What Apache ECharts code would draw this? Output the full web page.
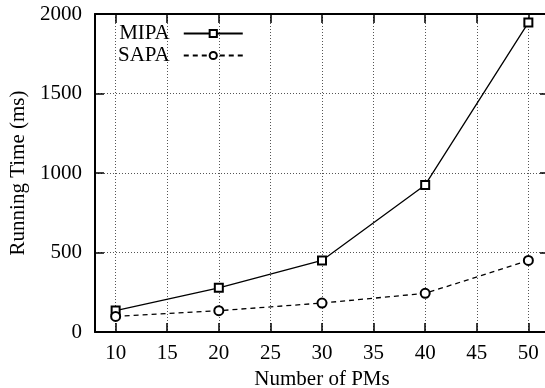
<!DOCTYPE html>
<html>
<head>
<meta charset="utf-8">
<title>Running time vs number of PMs</title>
<script src="https://cdn.jsdelivr.net/npm/echarts@6/dist/echarts.min.js"></script>
<style>
  html, body { margin: 0; padding: 0; background: #fff; }
  #chart { width: 545px; height: 388px; }
</style>
</head>
<body>
<div id="chart"></div>
<script>
  // ===== 数据 =====
  const pms = [10, 20, 30, 40, 50];
  const mipa = [135, 278, 450, 925, 1946];
  const sapa = [98, 134, 182, 243, 450];
  const xTicks = [10, 15, 20, 25, 30, 35, 40, 45, 50];

  const FONT = "Liberation Serif";
  const FS = 21;
  const ink = "#000";
  const gridLine = { show: true, lineStyle: { color: "#555", width: 1, type: [1, 2] } };

  const chart = echarts.init(document.getElementById("chart"), null, { renderer: "canvas" });

  chart.setOption({
    animation: false,
    textStyle: { fontFamily: FONT, color: ink },
    grid: { left: 95, top: 14, right: -4, bottom: 56, outerBoundsMode: "none", containLabel: false },
    legend: {
      orient: "vertical",
      left: 113, top: 18,
      align: "right",
      itemWidth: 59, itemHeight: 9, itemGap: 1,
      textStyle: { fontFamily: FONT, fontSize: FS, color: ink, padding: [0, 9, 0, 0] },
      data: ["MIPA", "SAPA"],
    },
    xAxis: [
      {
        type: "value", min: 8, max: 52,
        name: "Number of PMs", nameLocation: "middle", nameGap: 32,
        nameTextStyle: { fontFamily: FONT, fontSize: FS, color: ink },
        axisLine: { onZero: false, lineStyle: { color: ink, width: 2 } },
        axisTick: { inside: true, length: 9, customValues: xTicks, lineStyle: { color: ink, width: 1.5 } },
        axisLabel: { customValues: xTicks, margin: 11, fontFamily: FONT, fontSize: FS, color: ink },
        splitLine: gridLine,
      },
      {
        type: "value", min: 8, max: 52, position: "top",
        axisLine: { onZero: false, lineStyle: { color: ink, width: 2 } },
        axisTick: { inside: true, length: 9, customValues: xTicks, lineStyle: { color: ink, width: 1.5 } },
        axisLabel: { show: false },
        splitLine: { show: false },
      },
    ],
    yAxis: [
      {
        type: "value", min: 0, max: 2000, interval: 500,
        name: "Running Time (ms)", nameLocation: "middle", nameGap: 61,
        nameTextStyle: { fontFamily: FONT, fontSize: FS, color: ink },
        axisLine: { show: true, onZero: false, lineStyle: { color: ink, width: 2 } },
        axisTick: { show: true, inside: true, length: 9, lineStyle: { color: ink, width: 1.5 } },
        axisLabel: { margin: 13, fontFamily: FONT, fontSize: FS, color: ink, formatter: v => String(v) },
        splitLine: gridLine,
      },
      {
        type: "value", min: 0, max: 2000, interval: 500, position: "right",
        axisLine: { show: true, onZero: false, lineStyle: { color: ink, width: 2 } },
        axisTick: { show: true, inside: true, length: 9, lineStyle: { color: ink, width: 1.5 } },
        axisLabel: { show: false },
        splitLine: { show: false },
      },
    ],
    series: [
      {
        name: "MIPA", type: "line", xAxisIndex: 0, yAxisIndex: 0,
        data: pms.map((x, i) => [x, mipa[i]]),
        symbol: "emptyRect", symbolSize: 8,
        lineStyle: { color: ink, width: 1.3, type: "solid" },
        itemStyle: { color: ink, borderColor: ink, borderWidth: 1.3 },
      },
      {
        name: "SAPA", type: "line", xAxisIndex: 0, yAxisIndex: 0,
        data: pms.map((x, i) => [x, sapa[i]]),
        symbol: "emptyCircle", symbolSize: 9,
        lineStyle: { color: ink, width: 1.3, type: [5, 4] },
        itemStyle: { color: ink, borderColor: ink, borderWidth: 1.3 },
      },
    ],
  });
</script>
</body>
</html>
